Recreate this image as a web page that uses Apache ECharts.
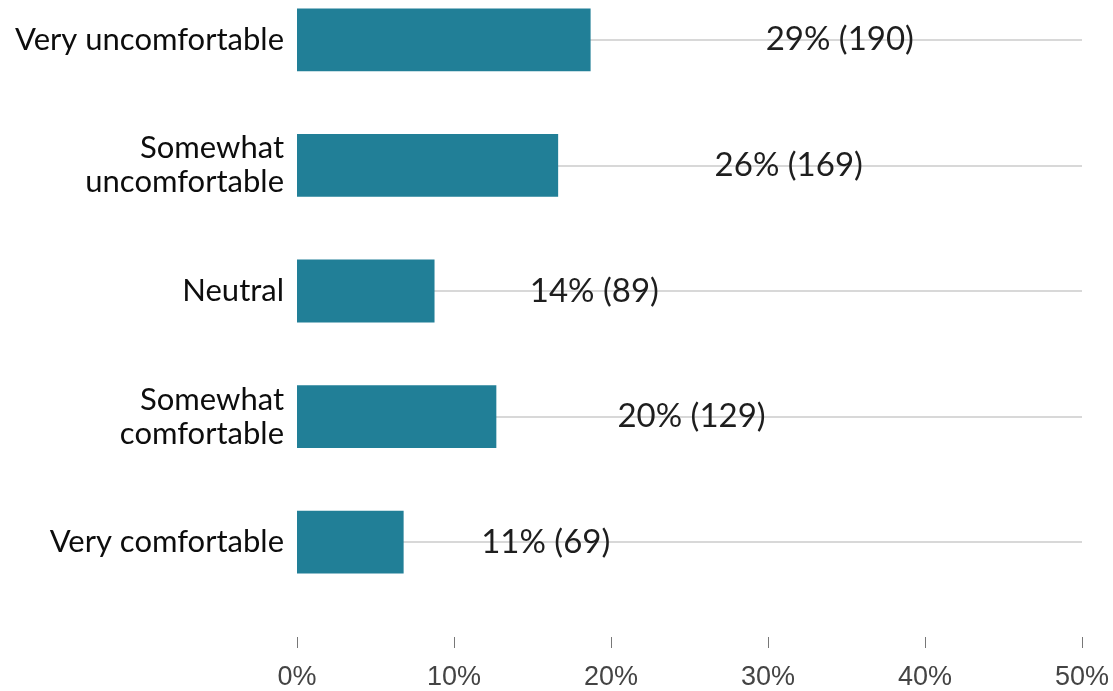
<!DOCTYPE html>
<html>
<head>
<meta charset="utf-8">
<script src="https://cdn.jsdelivr.net/npm/echarts@6/dist/echarts.min.js"></script>
<style>
  html, body { margin: 0; padding: 0; background: #ffffff; overflow: hidden; }
  /* the plot starts a little above the visible page edge */
  #chart { position: absolute; left: 0; top: -23px; width: 1113px; height: 714px; }
</style>
</head>
<body>
<div id="chart"></div>
<script>
// Survey responses: comfort level
const categories = [
  'Very uncomfortable',
  'Somewhat\nuncomfortable',
  'Neutral',
  'Somewhat\ncomfortable',
  'Very comfortable'
];
const counts = [190, 169, 89, 129, 69];
const percentTicks = [0, 10, 20, 30, 40, 50];

const total = counts.reduce((a, b) => a + b, 0);
const shares = counts.map(c => c / total * 100);

const chart = echarts.init(document.getElementById('chart'), null, { renderer: 'canvas' });

const LABEL_FONT = 'Lato, "Noto Sans", sans-serif';

chart.setOption({
  animation: false,
  backgroundColor: '#ffffff',
  grid: { left: 297, right: 31, top: 0, bottom: 85, containLabel: false },
  yAxis: {
    type: 'category',
    data: categories,
    inverse: true,
    axisLine: { show: false },
    axisTick: { show: false },
    splitLine: { show: false },
    axisLabel: {
      margin: 13,
      fontFamily: LABEL_FONT,
      fontSize: 31,
      lineHeight: 34,
      color: '#0d0d0d',
      align: 'right'
    }
  },
  xAxis: [
    {
      // visible percentage scale
      type: 'value',
      position: 'bottom',
      min: percentTicks[0],
      max: percentTicks[percentTicks.length - 1],
      interval: percentTicks[1] - percentTicks[0],
      offset: 32,
      axisLine: { show: false },
      axisTick: { show: true, length: 11, lineStyle: { color: '#777777', width: 1 } },
      splitLine: { show: false },
      axisLabel: {
        margin: 27,
        fontFamily: '"Liberation Sans", Arial, sans-serif',
        fontSize: 27,
        color: '#444444',
        formatter: '{value}%'
      }
    },
    {
      // response-count scale for the bars
      type: 'value',
      position: 'top',
      min: 0,
      max: 508,
      show: false
    }
  ],
  series: [
    {
      name: 'share',
      type: 'scatter',
      xAxisIndex: 0,
      yAxisIndex: 0,
      z: 2,
      symbolSize: 1,
      itemStyle: { color: 'rgba(0,0,0,0)', opacity: 1 },
      data: shares.map((s, i) => [s, i]),
      label: {
        show: true,
        position: 'inside',
        offset: [81, 0],
        fontFamily: LABEL_FONT,
        fontSize: 33,
        color: '#1e1e1e',
        opacity: 1,
        formatter: p => Math.round(shares[p.dataIndex]) + '% (' + counts[p.dataIndex] + ')'
      },
      markLine: {
        silent: true,
        z: 1,
        symbol: 'none',
        animation: false,
        label: { show: false },
        lineStyle: { color: '#d8d8d8', width: 2, type: 'solid', opacity: 1 },
        data: categories.map((c, i) => [
          { coord: [percentTicks[0], i] },
          { coord: [percentTicks[percentTicks.length - 1], i] }
        ])
      }
    },
    {
      name: 'responses',
      type: 'bar',
      xAxisIndex: 1,
      yAxisIndex: 0,
      z: 3,
      barWidth: '50%',
      itemStyle: { color: '#217f97' },
      data: counts
    }
  ]
});
</script>
</body>
</html>
